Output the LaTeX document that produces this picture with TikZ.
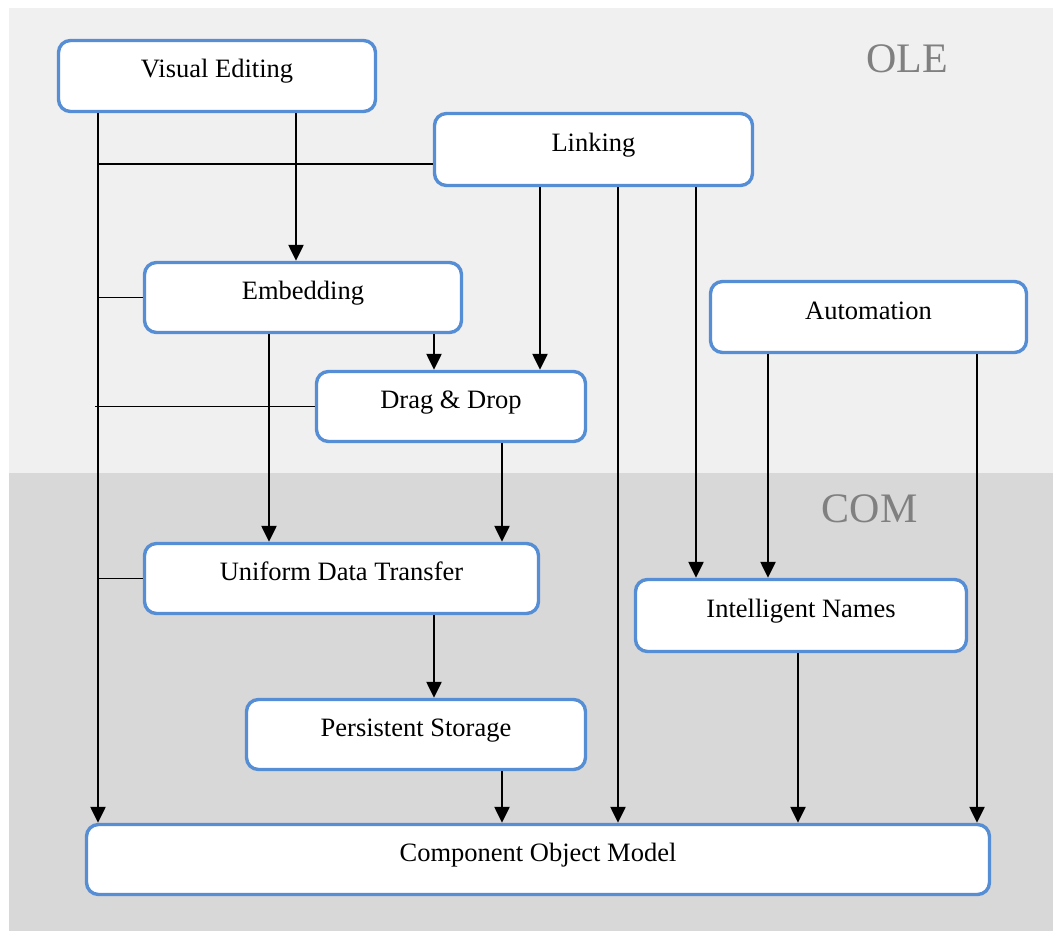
\documentclass[tikz,border=0pt]{standalone}
\usepackage{fontspec}
\setmainfont{Liberation Serif}
\usetikzlibrary{arrows.meta}
\definecolor{boxblue}{RGB}{85,142,213}
\definecolor{olebg}{RGB}{240,240,240}
\definecolor{combg}{RGB}{216,216,216}
\definecolor{tagtext}{RGB}{128,128,128}
\tikzset{
  box/.style={draw=boxblue, line width=3.4pt, fill=white, rounded corners=12pt,
    inner sep=0pt, font=\fontsize{26.5}{30}\selectfont,
    text height=18pt, text depth=14pt},
  arr/.style={line width=2.4pt, -{Triangle[width=15pt,length=16pt]}},
  tie/.style={line width=1.8pt},
  layertag/.style={anchor=base, text=tagtext, font=\fontsize{42}{46}\selectfont, inner sep=0pt}
}
\begin{document}
\begin{tikzpicture}[x=1pt, y=-1pt]
  % canvas and the two layers
  \useasboundingbox (0,0) rectangle (1053,931);
  \fill[white] (0,0) rectangle (1053,931);
  \fill[olebg] (9,8) rectangle (1053,473);
  \fill[combg] (9,473) rectangle (1053,931);
  \node[layertag] (oletag) at (907,73) {OLE};
  \node[layertag] (comtag) at (869.5,522) {COM};

  % column positions of the connectors
  \coordinate (c95) at (95,0);
  \coordinate (c98) at (98,0);
  \coordinate (c269) at (269,0);
  \coordinate (c296) at (296,0);
  \coordinate (c434) at (434,0);
  \coordinate (c502) at (502,0);
  \coordinate (c540) at (540,0);
  \coordinate (c618) at (618,0);
  \coordinate (c696) at (696,0);
  \coordinate (c768) at (768,0);
  \coordinate (c798) at (798,0);
  \coordinate (c977) at (977,0);

  % boxes
  \node[box, minimum width=317pt, minimum height=71pt] (ve) at (217,76) {Visual Editing};
  \node[box, minimum width=318pt, minimum height=72pt] (lk) at (593.5,149.5) {Linking};
  \node[box, minimum width=317pt, minimum height=70pt] (em) at (303,297.5) {Embedding};
  \node[box, minimum width=316pt, minimum height=71pt] (au) at (868.5,317) {Automation};
  \node[box, minimum width=269pt, minimum height=70pt] (dd) at (451,406.5) {Drag \& Drop};
  \node[box, minimum width=394pt, minimum height=70pt] (udt) at (341.5,578.5) {Uniform Data Transfer};
  \node[box, minimum width=331pt, minimum height=72pt] (in) at (801,615.5) {Intelligent Names};
  \node[box, minimum width=339pt, minimum height=70pt] (ps) at (416,734.5) {Persistent Storage};
  \node[box, minimum width=903pt, minimum height=70pt] (com) at (538,859.5) {Component Object Model};

  % left bus from Visual Editing down to the object model
  \draw[arr] (ve.south -| c98) -- (com.north -| c98);
  \draw[tie] ([yshift=-14.5pt]lk.west) -- ([yshift=-14.5pt]lk.west -| c98);
  \draw[tie] (em.west) -- (em.west -| c98);
  \draw[tie] (dd.west) -- (dd.west -| c95);
  \draw[tie] (udt.west) -- (udt.west -| c98);

  % dependencies
  \draw[arr] (ve.south -| c296) -- (em.north -| c296);
  \draw[arr] (lk.south -| c540) -- (dd.north -| c540);
  \draw[arr] (lk.south -| c618) -- (com.north -| c618);
  \draw[arr] (lk.south -| c696) -- (in.north -| c696);
  \draw[arr] (em.south -| c434) -- (dd.north -| c434);
  \draw[arr] (em.south -| c269) -- (udt.north -| c269);
  \draw[arr] (dd.south -| c502) -- (udt.north -| c502);
  \draw[arr] (au.south -| c768) -- (in.north -| c768);
  \draw[arr] (au.south -| c977) -- (com.north -| c977);
  \draw[arr] (udt.south -| c434) -- (ps.north -| c434);
  \draw[arr] (ps.south -| c502) -- (com.north -| c502);
  \draw[arr] (in.south -| c798) -- (com.north -| c798);
\end{tikzpicture}
\end{document}
